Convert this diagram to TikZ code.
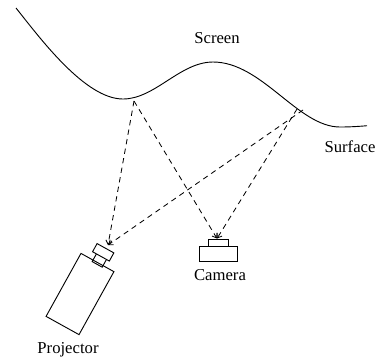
\documentclass[tikz,border=0pt]{standalone}
\usepackage{fontspec}
\setmainfont{Liberation Serif}
\usetikzlibrary{arrows.meta}
\tikzset{
  partbox/.style={draw, line width=0.55pt, inner sep=0pt, outer sep=0pt},
  rayline/.style={draw, line width=0.5pt, dash pattern=on 3.2pt off 2.6pt, -{Straight Barb[length=2.4pt,width=3.6pt]}},
  caption/.style={inner sep=0pt, font=\fontsize{10}{12}\selectfont}
}
\begin{document}
\begin{tikzpicture}[x=0.6pt, y=-0.6pt]
\useasboundingbox (0,0) rectangle (378,360);
% screen surface
\draw[line width=0.55pt] (16,8) .. controls (40,38) and (85,99) .. (123,99)
  .. controls (155,99) and (180,62) .. (213,62)
  .. controls (262,62) and (298,127) .. (340,127)
  .. controls (349,127) and (358,126.5) .. (367,125.7);
\node[caption] (screen) at (217,38) {Screen};
\node[caption] (surface) at (350,147) {Surface};
% projector
\node[partbox, rotate=-29, minimum width=22.6pt, minimum height=43.2pt] (projbody) at (80,294) {};
\node[partbox, rotate=-29, minimum width=6.9pt, minimum height=6pt] (projneck) at (99.6,260) {};
\node[partbox, rotate=-29, fill=white, minimum width=11.5pt, minimum height=5.6pt] (projlens) at (103.2,252.3) {};
\node[caption] (projector) at (68,350) {Projector};
% camera
\node[partbox, minimum width=23.2pt, minimum height=9pt] (cambody) at (218.4,254.2) {};
\node[partbox, minimum width=11.6pt, minimum height=4.4pt] (camtop) at (218.4,243) {};
\node[caption] (camera) at (220,275) {Camera};
% rays
\coordinate (hitleft) at (134,101);
\coordinate (hitprojright) at (303,110);
\coordinate (hitcamright) at (297,109);
\coordinate (projtip) at (108,245);
\coordinate (camtip) at (217,238.5);
\draw[rayline] (hitleft) -- (projtip);
\draw[rayline] (hitleft) -- (camtip);
\draw[rayline] (hitprojright) -- (projtip);
\draw[rayline] (hitcamright) -- (camtip);
\end{tikzpicture}
\end{document}
